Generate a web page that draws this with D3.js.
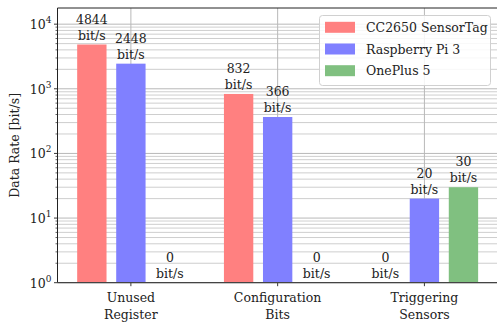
<!DOCTYPE html>
<html>
<head>
<meta charset="utf-8">
<script src="https://cdn.jsdelivr.net/npm/d3@7"></script>
<style>
  html, body { margin: 0; padding: 0; background: #fff; }
  svg { display: block; }
  text { font-family: "DejaVu Serif", serif; fill: #222; }
</style>
</head>
<body>
<svg id="chart" width="497" height="324"></svg>
<script>
// Data
const categories = ["Unused\nRegister", "Configuration\nBits", "Triggering\nSensors"];
const seriesNames = ["CC2650 SensorTag", "Raspberry Pi 3", "OnePlus 5"];
const seriesColors = ["#ff8080", "#8080ff", "#80c080"];
const sensorTag = [4844, 832, 0];
const raspberryPi = [2448, 366, 20];
const onePlus = [0, 0, 30];
const seriesValues = [sensorTag, raspberryPi, onePlus];
const yTickValues = [1, 10, 100, 1000, 10000];
const unit = "bit/s";

const FS = 12.5;
const svg = d3.select("#chart");
const plotLeft = 57.5, plotTop = 8, plotBottom = 282.7, plotRight = 497.8;

const x = d3.scaleBand().domain(d3.range(categories.length)).range([plotLeft, plotRight]).paddingInner(0).paddingOuter(0);
const bw = x.bandwidth();
const xs = d3.scaleBand().domain(d3.range(seriesNames.length))
  .range([-0.366 * bw, 0.366 * bw]).paddingInner(0.248).paddingOuter(0);
const y = d3.scaleLog().domain([1, Math.pow(10, 4.25)]).range([plotBottom, plotTop]);

// Minor and major log ticks
const minorTicks = [];
for (let e = 0; e <= 4; e++) {
  for (let m = 2; m <= 9; m++) {
    const v = m * Math.pow(10, e);
    if (v <= y.domain()[1]) minorTicks.push(v);
  }
}

const grid = svg.append("g");
grid.selectAll("line.minor").data(minorTicks).join("line")
  .attr("x1", plotLeft).attr("x2", 497)
  .attr("y1", d => y(d)).attr("y2", d => y(d))
  .attr("stroke", "#c8c8c8").attr("stroke-width", 0.9);
grid.selectAll("line.major").data(yTickValues).join("line")
  .attr("x1", plotLeft).attr("x2", 497)
  .attr("y1", d => y(d)).attr("y2", d => y(d))
  .attr("stroke", "#b8b8b8").attr("stroke-width", 1);
grid.selectAll("line.vert").data(d3.range(categories.length)).join("line")
  .attr("x1", d => x(d) + bw / 2).attr("x2", d => x(d) + bw / 2)
  .attr("y1", plotTop).attr("y2", plotBottom)
  .attr("stroke", "#b8b8b8").attr("stroke-width", 1);

// Bars
const barData = [];
seriesValues.forEach((vals, s) => vals.forEach((v, c) => barData.push({ s, c, v })));
const cx = d => x(d.c) + bw / 2 + xs(d.s);
svg.append("g").selectAll("rect").data(barData.filter(d => d.v > 0)).join("rect")
  .attr("x", d => cx(d)).attr("width", xs.bandwidth())
  .attr("y", d => y(d.v)).attr("height", d => plotBottom - y(d.v))
  .attr("fill", d => seriesColors[d.s]);

// Value labels
const lbl = svg.append("g").attr("text-anchor", "middle").style("font-size", FS + "px");
barData.forEach(d => {
  const mx = cx(d) + xs.bandwidth() / 2;
  const base = d.v > 0 ? y(d.v) - 5 : plotBottom - 4.5;
  lbl.append("text").attr("x", mx).attr("y", base).text(unit);
  lbl.append("text").attr("x", mx).attr("y", base - 16).text(d.v);
});

// Axes
const yAxis = svg.append("g").attr("transform", `translate(${plotLeft},0)`);
yAxis.selectAll("line.maj").data(yTickValues).join("line")
  .attr("x1", -3.5).attr("x2", 0).attr("y1", d => y(d)).attr("y2", d => y(d))
  .attr("stroke", "#222").attr("stroke-width", 0.9);
yAxis.selectAll("line.min").data(minorTicks).join("line")
  .attr("x1", -2).attr("x2", 0).attr("y1", d => y(d)).attr("y2", d => y(d))
  .attr("stroke", "#222").attr("stroke-width", 0.7);
yTickValues.forEach(v => {
  const t = yAxis.append("text").attr("text-anchor", "end")
    .attr("x", -6).attr("y", y(v) + 5).style("font-size", FS + "px");
  t.append("tspan").text("10");
  t.append("tspan").attr("dy", -6).style("font-size", "9px").text(Math.round(Math.log10(v)));
});

const xAxis = svg.append("g");
d3.range(categories.length).forEach(c => {
  const mx = x(c) + bw / 2;
  xAxis.append("line").attr("x1", mx).attr("x2", mx).attr("y1", plotBottom).attr("y2", plotBottom + 3.5)
    .attr("stroke", "#222").attr("stroke-width", 0.9);
  categories[c].split("\n").forEach((line, i) => {
    xAxis.append("text").attr("text-anchor", "middle").attr("x", mx)
      .attr("y", plotBottom + 19 + i * 17).style("font-size", FS + "px").text(line);
  });
});

// Spines
svg.append("line").attr("x1", plotLeft).attr("x2", plotLeft).attr("y1", plotTop).attr("y2", plotBottom)
  .attr("stroke", "#222").attr("stroke-width", 1);
svg.append("line").attr("x1", plotLeft).attr("x2", 497).attr("y1", plotTop).attr("y2", plotTop)
  .attr("stroke", "#222").attr("stroke-width", 1);
svg.append("line").attr("x1", plotLeft).attr("x2", 497).attr("y1", plotBottom).attr("y2", plotBottom)
  .attr("stroke", "#444").attr("stroke-width", 1.2);

// Y label
svg.append("text").attr("text-anchor", "middle")
  .attr("transform", `translate(19,${(plotTop + plotBottom) / 2}) rotate(-90)`)
  .style("font-size", FS + "px").text("Data Rate [bit/s]");

// Legend
const lg = svg.append("g");
lg.append("rect").attr("x", 319.5).attr("y", 15.5).attr("width", 171).attr("height", 70)
  .attr("rx", 3).attr("fill", "#fff").attr("fill-opacity", 0.85)
  .attr("stroke", "#d0d0d0").attr("stroke-width", 1);
seriesNames.forEach((name, i) => {
  const cy = 27.3 + i * 21.7;
  lg.append("rect").attr("x", 325).attr("y", cy - 5.5).attr("width", 30).attr("height", 11)
    .attr("fill", seriesColors[i]);
  lg.append("text").attr("x", 366).attr("y", cy + 4.5).style("font-size", FS + "px").text(name);
});
</script>
</body>
</html>
